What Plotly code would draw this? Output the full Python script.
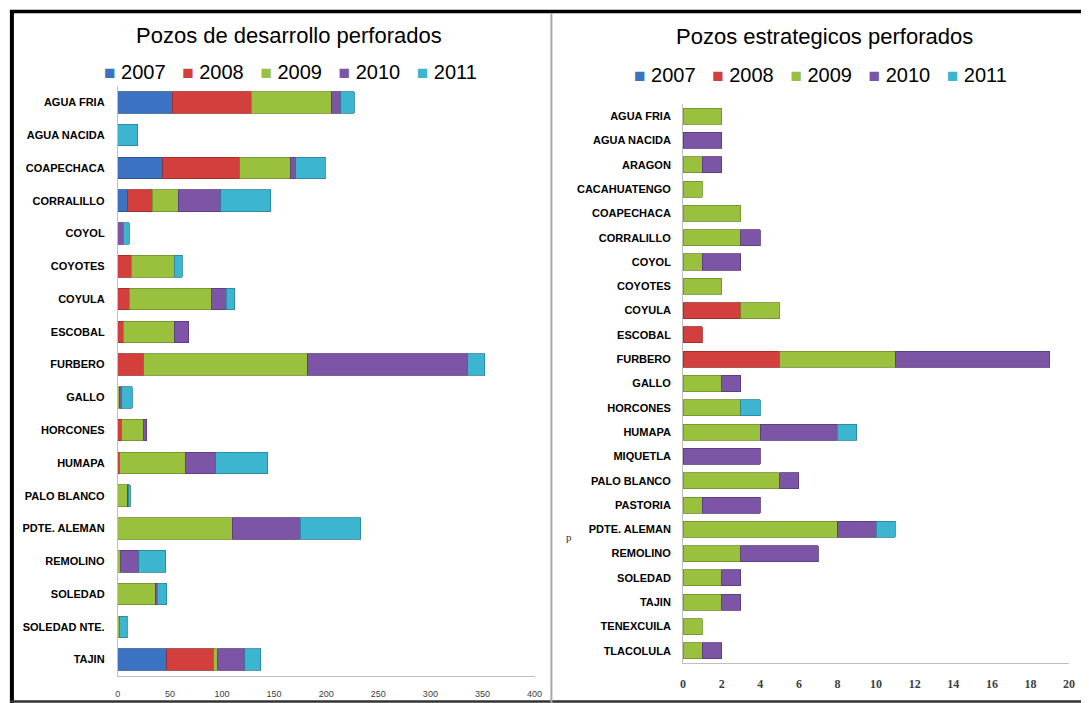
import plotly.graph_objects as go

years = ["2007", "2008", "2009", "2010", "2011"]
colors = ["#3B72C2", "#D23F3C", "#9AC13D", "#7C55A7", "#3CB5D0"]
edge_colors = ["#2A5390", "#9A2B28", "#6F8E2A", "#573A7A", "#2A8298"]

# Left chart: Pozos de desarrollo perforados
dev_fields = ["AGUA FRIA", "AGUA NACIDA", "COAPECHACA", "CORRALILLO", "COYOL",
              "COYOTES", "COYULA", "ESCOBAL", "FURBERO", "GALLO", "HORCONES",
              "HUMAPA", "PALO BLANCO", "PDTE. ALEMAN", "REMOLINO", "SOLEDAD",
              "SOLEDAD NTE.", "TAJIN"]
dev_2007 = [52, 0, 43, 9, 0, 0, 0, 0, 0, 0, 0, 0, 0, 0, 0, 0, 0, 47]
dev_2008 = [76, 0, 74, 24, 0, 13, 11, 5, 25, 0, 4, 2, 0, 0, 0, 0, 0, 45]
dev_2009 = [77, 0, 49, 25, 0, 41, 79, 49, 157, 2, 21, 63, 9, 110, 3, 36, 2, 4]
dev_2010 = [9, 0, 5, 41, 5, 0, 14, 14, 154, 2, 3, 29, 1, 65, 17, 2, 0, 26]
dev_2011 = [13, 19, 28, 48, 6, 8, 8, 0, 16, 10, 0, 50, 2, 58, 26, 9, 7, 15]
dev_ticks = [0, 50, 100, 150, 200, 250, 300, 350, 400]

# Right chart: Pozos estrategicos perforados
est_fields = ["AGUA FRIA", "AGUA NACIDA", "ARAGON", "CACAHUATENGO", "COAPECHACA",
              "CORRALILLO", "COYOL", "COYOTES", "COYULA", "ESCOBAL", "FURBERO",
              "GALLO", "HORCONES", "HUMAPA", "MIQUETLA", "PALO BLANCO", "PASTORIA",
              "PDTE. ALEMAN", "REMOLINO", "SOLEDAD", "TAJIN", "TENEXCUILA",
              "TLACOLULA"]
est_2007 = [0] * 23
est_2008 = [0, 0, 0, 0, 0, 0, 0, 0, 3, 1, 5, 0, 0, 0, 0, 0, 0, 0, 0, 0, 0, 0, 0]
est_2009 = [2, 0, 1, 1, 3, 3, 1, 2, 2, 0, 6, 2, 3, 4, 0, 5, 1, 8, 3, 2, 2, 1, 1]
est_2010 = [0, 2, 1, 0, 0, 1, 2, 0, 0, 0, 8, 1, 0, 4, 4, 1, 3, 2, 4, 1, 1, 0, 1]
est_2011 = [0, 0, 0, 0, 0, 0, 0, 0, 0, 0, 0, 0, 1, 1, 0, 0, 0, 1, 0, 0, 0, 0, 0]
est_ticks = list(range(0, 21, 2))

W, H = 1089, 703


def px_x(v):
    return v / W


def px_y(v):
    return 1 - v / H


def nz(vals):
    return [v if v else None for v in vals]


fig = go.Figure()

dev_series = [dev_2007, dev_2008, dev_2009, dev_2010, dev_2011]
est_series = [est_2007, est_2008, est_2009, est_2010, est_2011]

for i, yr in enumerate(years):
    fig.add_trace(go.Bar(
        y=dev_fields, x=nz(dev_series[i]), orientation="h", name=yr,
        marker=dict(color=colors[i], line=dict(color=edge_colors[i], width=0.8)),
        xaxis="x", yaxis="y", showlegend=False, hoverinfo="x+y+name"))
for i, yr in enumerate(years):
    fig.add_trace(go.Bar(
        y=est_fields, x=nz(est_series[i]), orientation="h", name=yr,
        marker=dict(color=colors[i], line=dict(color=edge_colors[i], width=0.8)),
        xaxis="x2", yaxis="y2", showlegend=False, hoverinfo="x+y+name"))

axis_gray = "#BFBFBF"

fig.update_layout(
    width=W, height=H,
    margin=dict(l=0, r=0, t=0, b=0),
    paper_bgcolor="white", plot_bgcolor="white",
    barmode="stack",
    bargap=0.34,
    font=dict(family="Liberation Sans, Arial, sans-serif", color="#000000"),
    xaxis=dict(domain=[px_x(116), px_x(537)], range=[0, 400], tickvals=dev_ticks,
               showgrid=False, zeroline=False, showline=True, linecolor=axis_gray,
               linewidth=1, ticks="", ticklabelstandoff=9,
               tickfont=dict(size=9, color="#404040", family="Liberation Sans"),
               anchor="y", fixedrange=True),
    yaxis=dict(domain=[px_y(676), px_y(86)], autorange="reversed",
               showgrid=False, zeroline=False, showline=True, linecolor=axis_gray,
               linewidth=1, ticks="", ticklabelstandoff=10,
               tickfont=dict(size=11, color="#000000", family="Liberation Sans",
                             weight="bold"),
               anchor="x", fixedrange=True),
    xaxis2=dict(domain=[px_x(687), px_x(1077)], range=[0, 20], tickvals=est_ticks,
                showgrid=False, zeroline=False, showline=True, linecolor=axis_gray,
                linewidth=1, ticks="", ticklabelstandoff=10,
                tickfont=dict(size=12, color="#404040", family="Liberation Serif",
                              weight="bold"),
                anchor="y2", fixedrange=True),
    yaxis2=dict(domain=[px_y(663), px_y(104)], autorange="reversed",
                showgrid=False, zeroline=False, showline=True, linecolor=axis_gray,
                linewidth=1, ticks="", ticklabelstandoff=9,
                tickfont=dict(size=11, color="#000000", family="Liberation Sans",
                              weight="bold"),
                anchor="x2", fixedrange=True),
)


def legend_text():
    parts = []
    for yr, c in zip(years, colors):
        parts.append('<span style="color:%s;font-size:19px">■</span> %s' % (c, yr))
    return "   ".join(parts)


annotations = [
    dict(text="Pozos de desarrollo perforados", x=px_x(289), y=px_y(36),
         xref="paper", yref="paper", showarrow=False, xanchor="center",
         yanchor="middle", font=dict(size=22, color="#000000")),
    dict(text="Pozos estrategicos perforados", x=px_x(830), y=px_y(37),
         xref="paper", yref="paper", showarrow=False, xanchor="center",
         yanchor="middle", font=dict(size=22, color="#000000")),
    dict(text=legend_text(), x=px_x(290), y=px_y(72), xref="paper", yref="paper",
         showarrow=False, xanchor="center", yanchor="middle",
         font=dict(size=20, color="#000000")),
    dict(text=legend_text(), x=px_x(826), y=px_y(75), xref="paper", yref="paper",
         showarrow=False, xanchor="center", yanchor="middle",
         font=dict(size=20, color="#000000")),
    dict(text="p", x=px_x(572), y=px_y(537), xref="paper", yref="paper",
         showarrow=False, xanchor="center", yanchor="middle",
         font=dict(size=11, color="#333333", family="Liberation Serif")),
]
fig.update_layout(annotations=annotations)

shapes = [
    # outer frame
    dict(type="line", xref="paper", yref="paper", x0=px_x(7), x1=1, y0=px_y(11.5), y1=px_y(11.5),
         line=dict(color="#000000", width=3.5)),
    dict(type="line", xref="paper", yref="paper", x0=px_x(9), x1=px_x(9), y0=px_y(10), y1=0,
         line=dict(color="#000000", width=4)),
    dict(type="line", xref="paper", yref="paper", x0=px_x(7), x1=1, y0=px_y(701.5), y1=px_y(701.5),
         line=dict(color="#333333", width=2.5)),
    # divider between panels
    dict(type="line", xref="paper", yref="paper", x0=px_x(554), x1=px_x(554), y0=px_y(13), y1=0,
         line=dict(color="#A6A6A6", width=2)),
]
fig.update_layout(shapes=shapes)

fig.write_html(
    "out.html",
    config={"displayModeBar": False},
    post_script="document.body.style.margin='0';document.body.style.padding='0';"
                "document.documentElement.style.overflow='hidden';",
)
